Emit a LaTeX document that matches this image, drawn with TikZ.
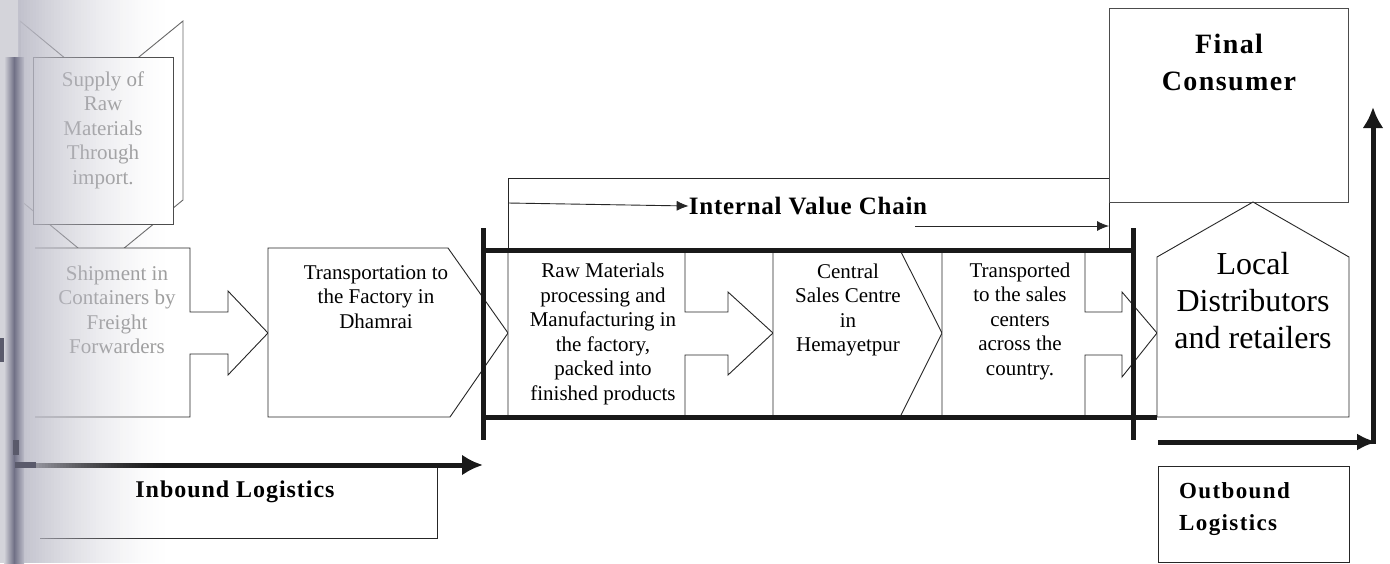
\documentclass[tikz,border=0pt]{standalone}
\usepackage{fontspec}
\setmainfont{Liberation Serif}
\usetikzlibrary{arrows.meta}
\definecolor{wash}{RGB}{188,188,200}
\definecolor{band}{RGB}{112,112,134}
\definecolor{margin}{RGB}{212,212,218}
\begin{document}
\begin{tikzpicture}[x=1pt,y=-1pt,
  outline/.style={draw=black!85,line width=0.9pt,fill=white,line join=miter},
  heavy/.style={line width=5pt,draw=black!90},
  body/.style={font=\fontsize{21}{24.5}\selectfont,align=center,inner sep=0pt},
  faint/.style={body,text=black!38},
  boldlabel/.style={inner sep=0pt,align=center},
  thinarrow/.style={draw=black!85,line width=0.9pt,-{Latex[length=12pt,width=10pt]}},
  bigtip/.style={-{Latex[length=21pt,width=21pt]}}
]
\useasboundingbox (0,0) rectangle (1390,563);
\fill[white] (0,0) rectangle (1390,563);

% folded sheet behind the import box
\draw[outline,draw=black!60] (20,21) -- (101,88) -- (183,21) -- (183,200) -- (101,267) -- (20,200) -- cycle;
\draw[outline,draw=black!70] (33,57) rectangle (173,224);
\node[faint] (supply) at (103,130) {Supply of\\Raw\\Materials\\Through\\import.};

% shipment box with its arrow
\draw[outline] (35,248) -- (190,248) -- (190,312) -- (228,312) -- (228,291) -- (268,333)
  -- (228,375) -- (228,354) -- (190,354) -- (190,417) -- (35,417);
\node[faint] (ship) at (117,310) {Shipment in\\Containers by\\Freight\\Forwarders};

% transport to the factory
\draw[outline] (268,248) -- (448,248) -- (508,333) -- (450,417) -- (268,417) -- cycle;
\node[body] (transport) at (376,297) {Transportation to\\the Factory in\\Dhamrai};

% frame of the internal value chain
\draw[outline,fill=none] (508,178) rectangle (1109,248);
\node[boldlabel,font=\fontsize{25}{28}\bfseries\selectfont\addfontfeature{LetterSpace=3}] (ivc) at (808,206) {Internal Value Chain};
\coordinate (ivcstart) at (508,203);
\coordinate (ivcmid) at (915,226);
\coordinate (ivcend) at (1109,226);
\draw[thinarrow] (ivcstart) -- (ivc.west);
\draw[thinarrow] (ivcmid) -- (ivcend);

% final consumer
\draw[outline,draw=black!70] (1109,8) rectangle (1348,202);
\node[boldlabel,font=\fontsize{28}{37}\bfseries\selectfont\addfontfeature{LetterSpace=5}] (final) at (1229,62) {Final\\Consumer};

% processing in the factory
\draw[outline] (508,250) -- (685,250) -- (685,312) -- (728,312) -- (728,292) -- (773,333)
  -- (728,375) -- (728,355) -- (685,355) -- (685,417) -- (508,417) -- cycle;
\node[body] (factory) at (603,334) {Raw Materials\\processing and\\Manufacturing in\\the factory,\\packed into\\finished products};

% central sales centre
\draw[outline] (773,250) -- (900,250) -- (942,333) -- (900,417) -- (773,417) -- cycle;
\node[body] (central) at (848,310) {Central\\Sales Centre\\in\\Hemayetpur};

% transport to the sales centres
\draw[outline] (942,250) -- (1085,250) -- (1085,312) -- (1122,312) -- (1122,292) -- (1157,333)
  -- (1122,377) -- (1122,355) -- (1085,355) -- (1085,417) -- (942,417) -- cycle;
\node[body] (sales) at (1020,321) {Transported\\to the sales\\centers\\across the\\country.};

% local distributors
\draw[outline] (1157,417) -- (1157,257) -- (1253,202) -- (1349,257) -- (1349,417) -- cycle;
\node[body,font=\fontsize{32}{37}\selectfont] (local) at (1253,301) {Local\\Distributors\\and retailers};

% heavy frame round the internal chain
\coordinate (lt) at (483,228); \coordinate (lb) at (483,440);
\coordinate (rt) at (1133,228); \coordinate (rb) at (1133,440);
\draw[heavy] (lt) -- (lb);
\draw[heavy] (rt) -- (rb);
\draw[heavy] (483,250) -- (1133,250);
\draw[heavy] (483,417) -- (1157,417);

% inbound logistics
\draw[outline] (40,467) -- (437,467) -- (437,538) -- (40,538);
\node[boldlabel,font=\fontsize{24}{28}\bfseries\selectfont\addfontfeature{LetterSpace=4}] (inbound) at (235,492) {Inbound Logistics};
\coordinate (inA) at (15,465); \coordinate (inB) at (483,465);
\draw[heavy,bigtip] (inA) -- (inB);

% outbound logistics
\draw[outline] (1158,466) rectangle (1349,562);
\node[boldlabel,align=left,anchor=west,font=\fontsize{23}{32}\bfseries\selectfont\addfontfeature{LetterSpace=6}] (outbound) at (1179,509) {Outbound\\Logistics};
\coordinate (outA) at (1158,442); \coordinate (outB) at (1377,442);
\coordinate (upA) at (1373,444); \coordinate (upB) at (1373,107);
\draw[heavy,-{Latex[length=20pt,width=17pt]}] (outA) -- (outB);
\draw[heavy,bigtip] (upA) -- (upB);

% grey wash along the left margin, fading out to the right
\foreach \i in {0,...,49}{
  \pgfmathsetmacro{\op}{0.92*(1-\i/50)^1.6}
  \fill[wash,opacity=\op] ({18+3*\i},0) rectangle ({21+3*\i},563);
}
\fill[margin] (0,0) rectangle (18,563);
\shade[left color=margin,right color=wash,middle color=band] (4,57) rectangle (24,563);
\fill[band!80!black] (0,338) rectangle (4,362);
\fill[band!80!black] (13,440) rectangle (19,455);
\fill[band!80!black] (15,462) rectangle (36,468);
\end{tikzpicture}
\end{document}
